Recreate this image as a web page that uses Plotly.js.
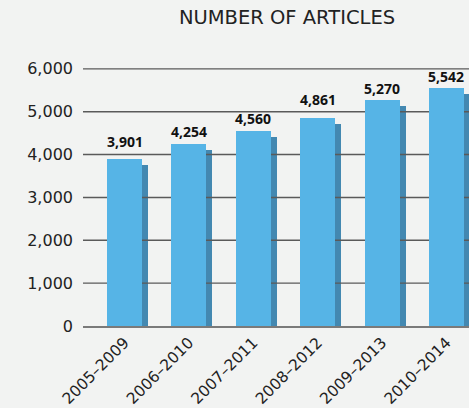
<!DOCTYPE html>
<html>
<head>
<meta charset="utf-8">
<script src="https://cdn.plot.ly/plotly-3.0.1.min.js"></script>
<style>html,body{margin:0;padding:0;background:#f2f3f2;}#chart{width:469px;height:408px;}</style>
</head>
<body>
<div id="chart"></div>
<script>
// ---- data ----
const periods = ["2005–2009", "2006–2010", "2007–2011", "2008–2012", "2009–2013", "2010–2014"];
const articles = [3901, 4254, 4560, 4861, 5270, 5542];
const yTickVals = [0, 1000, 2000, 3000, 4000, 5000, 6000];
const yTickText = ["0", "1,000", "2,000", "3,000", "4,000", "5,000", "6,000"];
const chartTitle = "NUMBER OF ARTICLES";

// ---- layout / style constants ----
const xRange = [-0.645, 5.35];
const yRange = [0, 6300];
const mainColor = "#56b4e6";
const shadowColor = "#4388b1";
const shadowDrop = 140;   // visual offset of the shadow bar top
const labelShift = [6, 1, 1, 7, 0, 0];   // per-label vertical gap (px), as in the original
const FONT = "DejaVu Sans, sans-serif";
const LABEL_FONT = "Open Sans, sans-serif";

const idx = periods.map((_, i) => i);

// gridline trace built from tick values (0 is drawn as the axis line)
const gx = [], gy = [];
yTickVals.filter(v => v > 0).forEach(v => { gx.push(xRange[0], xRange[1], null); gy.push(v, v, null); });

const shadow = {
  type: "bar", x: idx, y: articles, base: -shadowDrop,
  offset: 0.272, width: 0.093,
  marker: {color: shadowColor}, xaxis: "x", yaxis: "y",
  hoverinfo: "skip", showlegend: false
};
const grid = {
  type: "scatter", mode: "lines", x: gx, y: gy,
  line: {color: "#5a5a5a", width: 1.4},
  xaxis: "x", yaxis: "y", hoverinfo: "skip", showlegend: false
};
const main = {
  type: "bar", x: idx, y: articles, width: 0.543,
  marker: {color: mainColor}, xaxis: "x", yaxis: "y2",
  showlegend: false
};

const annotations = articles.map((v, i) => ({
  x: i, y: v, xref: "x", yref: "y2",
  text: v.toLocaleString("en-US"),
  showarrow: false, yanchor: "bottom", yshift: labelShift[i],
  font: {family: LABEL_FONT, size: 14, color: "#111", weight: 700}
}));

const layout = {
  width: 469, height: 408,
  paper_bgcolor: "#f2f3f2", plot_bgcolor: "rgba(0,0,0,0)",
  margin: {l: 83, r: 0, t: 56, b: 82},
  showlegend: false,
  title: {
    text: chartTitle, xref: "container", yref: "container",
    x: 287 / 469, xanchor: "center", y: 1 - 17.5 / 408, yanchor: "middle",
    font: {family: FONT, size: 19.5, color: "#222"}
  },
  xaxis: {
    type: "linear", range: xRange, tickvals: idx, ticktext: periods,
    tickangle: -45, showgrid: false, zeroline: false,
    showline: true, linecolor: "#7a7a7a", linewidth: 1.5,
    ticks: "", tickfont: {family: FONT, size: 15.5, color: "#222"}, fixedrange: true
  },
  yaxis: {
    range: yRange, tickvals: yTickVals, ticktext: yTickText,
    showgrid: false, zeroline: false, showline: false, ticks: "",
    ticklabelstandoff: 9,
    tickfont: {family: FONT, size: 16, color: "#222"}, fixedrange: true
  },
  yaxis2: {
    range: yRange, overlaying: "y", visible: false, fixedrange: true
  },
  annotations: annotations,
  bargap: 0
};

Plotly.newPlot("chart", [shadow, grid, main], layout, {displayModeBar: false, staticPlot: true});
</script>
</body>
</html>
